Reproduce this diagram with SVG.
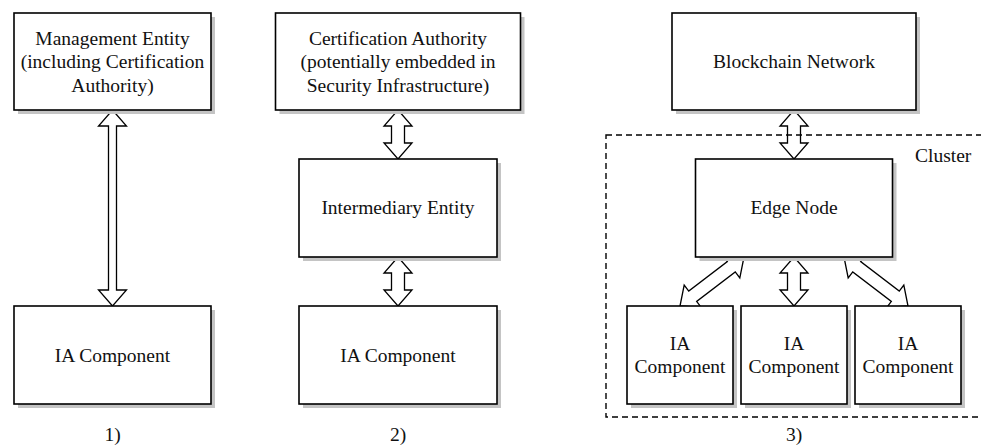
<svg xmlns="http://www.w3.org/2000/svg" width="981" height="447" viewBox="0 0 981 447">
<style>
text{font-family:"Liberation Serif","Times New Roman",serif;font-size:19.5px;fill:#111;text-anchor:middle}
.box{fill:#fff;stroke:#000;stroke-width:1.6}
.sh{fill:#c4c4c4}
.arr{fill:#fff;stroke:#000;stroke-width:1.3;stroke-linejoin:miter}
.cl{fill:none;stroke:#000;stroke-width:1.4;stroke-dasharray:6 4}
</style>
<rect width="981" height="447" fill="#fff"/>
<g id="connectors">
<polygon class="arr" points="112.5,110 126.5,126 116.5,126 116.5,290 126.5,290 112.5,306 98.5,290 108.5,290 108.5,126 98.5,126"/>
<polygon class="arr" points="398,110 412,126 404.5,126 404.5,143 412,143 398,159 384,143 391.5,143 391.5,126 384,126"/>
<polygon class="arr" points="398,257 412,273 404.5,273 404.5,290 412,290 398,306 384,290 391.5,290 391.5,273 384,273"/>
<polygon class="arr" points="794,110 808,126 800.5,126 800.5,143 808,143 794,159 780,143 787.5,143 787.5,126 780,126"/>
<polygon class="arr" points="794,257 808,273 800.5,273 800.5,290 808,290 794,306 780,290 787.5,290 787.5,273 780,273"/>
<polygon class="arr" points="744,257 739.81,277.85 735.25,271.89 696.65,301.43 701.21,307.39 680,306 684.19,285.15 688.75,291.11 727.35,261.57 722.79,255.61"/>
<polygon class="arr" points="844,257 848.19,277.85 852.75,271.89 891.35,301.43 886.79,307.39 908,306 903.81,285.15 899.25,291.11 860.65,261.57 865.21,255.61"/>
</g>
<g id="management-entity">
<rect class="sh" x="18" y="17" width="197" height="97"/>
<rect class="box" x="14" y="13" width="197" height="97"/>
<text x="112.5" y="45">Management Entity</text>
<text x="112.5" y="68.3">(including Certification</text>
<text x="112.5" y="91.7">Authority)</text>
</g>
<g id="ia-component-1">
<rect class="sh" x="18" y="310" width="197" height="98"/>
<rect class="box" x="14" y="306" width="197" height="98"/>
<text x="112.5" y="361.5">IA Component</text>
</g>
<g id="certification-authority">
<rect class="sh" x="279.5" y="17" width="245" height="97"/>
<rect class="box" x="275.5" y="13" width="245" height="97"/>
<text x="398" y="45">Certification Authority</text>
<text x="398" y="68.3">(potentially embedded in</text>
<text x="398" y="91.7">Security Infrastructure)</text>
</g>
<g id="intermediary-entity">
<rect class="sh" x="303" y="163" width="198" height="98"/>
<rect class="box" x="299" y="159" width="198" height="98"/>
<text x="398" y="214">Intermediary Entity</text>
</g>
<g id="ia-component-2">
<rect class="sh" x="303" y="310" width="198" height="98"/>
<rect class="box" x="299" y="306" width="198" height="98"/>
<text x="398" y="361.5">IA Component</text>
</g>
<g id="blockchain-network">
<rect class="sh" x="676" y="17" width="244" height="97"/>
<rect class="box" x="672" y="13" width="244" height="97"/>
<text x="794" y="68">Blockchain Network</text>
</g>
<g id="edge-node">
<rect class="sh" x="699.5" y="163" width="197" height="98"/>
<rect class="box" x="695.5" y="159" width="197" height="98"/>
<text x="794" y="214">Edge Node</text>
</g>
<g id="ia-component-3a">
<rect class="sh" x="631" y="310" width="106" height="98"/>
<rect class="box" x="627" y="306" width="106" height="98"/>
<text x="680" y="350">IA</text>
<text x="680" y="373">Component</text>
</g>
<g id="ia-component-3b">
<rect class="sh" x="745" y="310" width="106" height="98"/>
<rect class="box" x="741" y="306" width="106" height="98"/>
<text x="794" y="350">IA</text>
<text x="794" y="373">Component</text>
</g>
<g id="ia-component-3c">
<rect class="sh" x="859" y="310" width="106" height="98"/>
<rect class="box" x="855" y="306" width="106" height="98"/>
<text x="908" y="350">IA</text>
<text x="908" y="373">Component</text>
</g>
<g id="cluster">
<rect class="cl" x="606" y="135" width="390" height="282"/>
<text x="915" y="162" style="text-anchor:start">Cluster</text>
</g>
<g id="labels">
<text x="112.5" y="441">1)</text>
<text x="398" y="441">2)</text>
<text x="794" y="441">3)</text>
</g>
</svg>
